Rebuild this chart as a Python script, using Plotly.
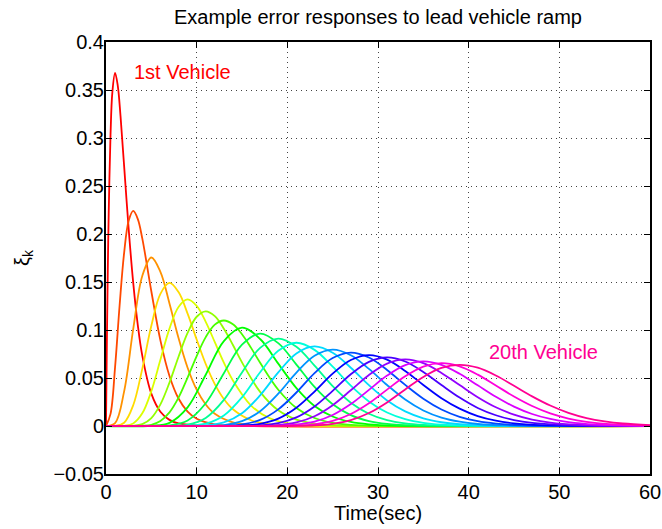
import colorsys
import plotly.graph_objects as go

# ---------------- data ----------------
X_TICKS = [0, 10, 20, 30, 40, 50, 60]
Y_TICKS = [-0.05, 0, 0.05, 0.1, 0.15, 0.2, 0.25, 0.3, 0.35, 0.4]
Y_TICK_LABELS = ["\u22120.05", "0", "0.05", "0.1", "0.15", "0.2", "0.25", "0.3", "0.35", "0.4"]

V01_T = [0, 0.1, 0.2, 0.3, 0.5, 0.7, 1, 1.3, 1.6, 2, 2.5, 3, 3.5, 4, 5, 6, 7, 8, 10, 12, 60]
V01_Y = [0, 0.0905, 0.1637, 0.2222, 0.3033, 0.3476, 0.3679, 0.3543, 0.3230, 0.2707, 0.2052, 0.1494,
         0.1057, 0.0733, 0.0337, 0.0149, 0.0064, 0.0027, 0.0005, 0.0001, 0]

V02_T = [0, 0.5, 1, 1.5, 2, 2.5, 3, 3.5, 4, 5, 6, 7, 8, 9, 10, 12, 14, 60]
V02_Y = [0, 0.0126, 0.0613, 0.1255, 0.1804, 0.2138, 0.2240, 0.2158, 0.1954, 0.1404, 0.0892, 0.0521,
         0.0286, 0.0150, 0.0076, 0.0018, 0.0004, 0]

V03_T = [0, 1, 2, 3, 4, 5, 6, 7, 8, 9, 10, 11, 12, 14, 16, 18, 60]
V03_Y = [0, 0.0031, 0.0361, 0.1008, 0.1563, 0.1755, 0.1606, 0.1277, 0.0916, 0.0607, 0.0378, 0.0224,
         0.0127, 0.0037, 0.0010, 0.0002, 0]

V04_T = [0, 1, 2, 3, 4, 5, 6, 7, 8, 9, 10, 11, 12, 13, 14, 16, 18, 20, 22, 60]
V04_Y = [0, 0.0001, 0.0034, 0.0216, 0.0595, 0.1044, 0.1377, 0.1490, 0.1395, 0.1171, 0.0901, 0.0646,
         0.0437, 0.0281, 0.0174, 0.0060, 0.0019, 0.0005, 0.0001, 0]

V05_T = [0, 2, 3, 4, 5, 6, 7, 8, 9, 10, 11, 12, 13, 14, 16, 18, 20, 22, 25, 60]
V05_Y = [0, 0.0002, 0.0027, 0.0132, 0.0363, 0.0689, 0.1014, 0.1240, 0.1318, 0.1251, 0.1085, 0.0874,
         0.0660, 0.0474, 0.0213, 0.0083, 0.0029, 0.0009, 0.0001, 0]

V06_T = [0, 3, 4, 5, 6, 7, 8, 9, 10, 11, 12, 13, 14, 15, 17, 19, 21, 23, 25, 28, 60]
V06_Y = [0, 0.0002, 0.0019, 0.0082, 0.0225, 0.0452, 0.0722, 0.0970, 0.1138, 0.1194, 0.1144, 0.1014,
         0.0844, 0.0663, 0.0355, 0.0163, 0.0067, 0.0025, 0.0008, 0.0001, 0]

V07_T = [0, 4, 5, 6, 7, 8, 9, 10, 11, 12, 13, 14, 15, 16, 17, 19, 21, 23, 25, 27, 30, 60]
V07_Y = [0, 0.0002, 0.0013, 0.0052, 0.0142, 0.0296, 0.0504, 0.0729, 0.0926, 0.1056, 0.1099, 0.1060,
         0.0956, 0.0814, 0.0659, 0.0378, 0.0188, 0.0083, 0.0033, 0.0012, 0.0002, 0]

V08_T = [0, 5, 7, 9, 11, 13, 15, 17, 19, 21, 23, 25, 27, 29, 32, 35, 60]
V08_Y = [0, 0.0002, 0.0033, 0.0194, 0.0534, 0.0885, 0.1024, 0.0906, 0.0650, 0.0395, 0.0209, 0.0099,
         0.0042, 0.0017, 0.0004, 0.0001, 0]

V09_T = [0, 5, 7, 9, 11, 13, 15, 17, 19, 21, 23, 25, 27, 29, 31, 34, 37, 60]
V09_Y = [0, 0.0000, 0.0006, 0.0058, 0.0237, 0.0550, 0.0847, 0.0963, 0.0863, 0.0640, 0.0407, 0.0227,
         0.0114, 0.0052, 0.0022, 0.0005, 0.0001, 0]

V10_T = [0, 7, 9, 11, 13, 15, 17, 19, 21, 23, 25, 27, 29, 31, 33, 35, 38, 41, 60]
V10_Y = [0, 0.0001, 0.0014, 0.0084, 0.0272, 0.0558, 0.0814, 0.0911, 0.0826, 0.0629, 0.0415, 0.0243,
         0.0128, 0.0061, 0.0027, 0.0011, 0.0003, 0.0001, 0]

V11_T = [0, 7, 9, 11, 13, 15, 17, 19, 21, 23, 25, 27, 29, 31, 33, 35, 37, 40, 44, 60]
V11_Y = [0, 0.0000, 0.0003, 0.0024, 0.0109, 0.0299, 0.0560, 0.0783, 0.0867, 0.0793, 0.0618, 0.0421,
         0.0256, 0.0140, 0.0071, 0.0033, 0.0014, 0.0004, 0.0000, 0]

V12_T = [0, 9, 11, 13, 15, 17, 19, 21, 23, 25, 27, 29, 31, 33, 35, 37, 39, 42, 46, 60]
V12_Y = [0, 0.0000, 0.0006, 0.0037, 0.0133, 0.0320, 0.0559, 0.0756, 0.0829, 0.0763, 0.0607, 0.0425,
         0.0266, 0.0152, 0.0080, 0.0039, 0.0018, 0.0005, 0.0001, 0]

V13_T = [0, 11, 13, 15, 17, 19, 21, 23, 25, 27, 29, 31, 33, 35, 37, 39, 41, 44, 48, 60]
V13_Y = [0, 0.0001, 0.0010, 0.0050, 0.0154, 0.0336, 0.0556, 0.0731, 0.0795, 0.0737, 0.0595, 0.0427,
         0.0276, 0.0162, 0.0088, 0.0045, 0.0021, 0.0006, 0.0001, 0]

V14_T = [0, 11, 13, 15, 17, 19, 21, 23, 25, 27, 29, 31, 33, 35, 37, 39, 41, 43, 46, 50, 60]
V14_Y = [0, 0.0000, 0.0002, 0.0016, 0.0063, 0.0173, 0.0349, 0.0551, 0.0708, 0.0765, 0.0713, 0.0584,
         0.0428, 0.0284, 0.0172, 0.0096, 0.0050, 0.0025, 0.0008, 0.0001, 0]

V15_T = [0, 13, 15, 17, 19, 21, 23, 25, 27, 29, 31, 33, 35, 37, 39, 41, 43, 45, 48, 52, 60]
V15_Y = [0, 0.0001, 0.0004, 0.0023, 0.0077, 0.0190, 0.0359, 0.0545, 0.0687, 0.0739, 0.0692, 0.0574,
         0.0428, 0.0290, 0.0181, 0.0104, 0.0056, 0.0028, 0.0009, 0.0002, 0]

V16_T = [0, 13, 15, 17, 19, 21, 23, 25, 27, 29, 31, 33, 35, 37, 39, 41, 43, 45, 47, 50, 54, 60]
V16_Y = [0, 0.0000, 0.0001, 0.0007, 0.0030, 0.0090, 0.0204, 0.0366, 0.0539, 0.0668, 0.0715, 0.0672,
         0.0563, 0.0427, 0.0296, 0.0188, 0.0112, 0.0062, 0.0032, 0.0011, 0.0002, 0]

V17_T = [0, 15, 17, 19, 21, 23, 25, 27, 29, 31, 33, 35, 37, 39, 41, 43, 45, 47, 49, 52, 56, 60]
V17_Y = [0, 0.0000, 0.0002, 0.0010, 0.0038, 0.0102, 0.0217, 0.0372, 0.0532, 0.0650, 0.0693, 0.0654,
         0.0553, 0.0426, 0.0300, 0.0195, 0.0119, 0.0067, 0.0036, 0.0013, 0.0003, 0.0000]

V18_T = [0, 17, 19, 21, 23, 25, 27, 29, 31, 33, 35, 37, 39, 41, 43, 45, 47, 49, 51, 54, 58, 60]
V18_Y = [0, 0.0000, 0.0003, 0.0014, 0.0045, 0.0114, 0.0228, 0.0376, 0.0525, 0.0634, 0.0673, 0.0637,
         0.0544, 0.0424, 0.0304, 0.0202, 0.0125, 0.0073, 0.0040, 0.0015, 0.0003, 0.0001]

V19_T = [0, 19, 21, 23, 25, 27, 29, 31, 33, 35, 37, 39, 41, 43, 45, 47, 49, 51, 53, 56, 60]
V19_Y = [0, 0.0001, 0.0005, 0.0018, 0.0053, 0.0125, 0.0237, 0.0379, 0.0518, 0.0619, 0.0654, 0.0621,
         0.0535, 0.0422, 0.0307, 0.0208, 0.0131, 0.0078, 0.0044, 0.0017, 0.0004]

V20_T = [0, 19, 21, 23, 25, 27, 29, 31, 33, 35, 37, 39, 41, 43, 45, 47, 49, 51, 53, 55, 57, 60]
V20_Y = [0, 0.0000, 0.0001, 0.0006, 0.0023, 0.0061, 0.0135, 0.0246, 0.0381, 0.0511, 0.0605, 0.0637,
         0.0607, 0.0526, 0.0419, 0.0309, 0.0213, 0.0137, 0.0083, 0.0048, 0.0026, 0.0010]

TIMES = [V01_T, V02_T, V03_T, V04_T, V05_T, V06_T, V07_T, V08_T, V09_T, V10_T,
         V11_T, V12_T, V13_T, V14_T, V15_T, V16_T, V17_T, V18_T, V19_T, V20_T]
VALUES = [V01_Y, V02_Y, V03_Y, V04_Y, V05_Y, V06_Y, V07_Y, V08_Y, V09_Y, V10_Y,
          V11_Y, V12_Y, V13_Y, V14_Y, V15_Y, V16_Y, V17_Y, V18_Y, V19_Y, V20_Y]

# ---------------- styling ----------------
FONT = "Liberation Sans, Arial, Helvetica, sans-serif"
W, H = 662, 529
ML, MR, MT, MB = 106, 12, 42, 55
PW, PH = W - ML - MR, H - MT - MB


def hsv_color(i, n):
    r, g, b = colorsys.hsv_to_rgb(i / (n + 1), 1.0, 1.0)
    return f"rgb({round(r * 255)},{round(g * 255)},{round(b * 255)})"


N = len(TIMES)
COLORS = [hsv_color(i, N) for i in range(N)]

fig = go.Figure()
for i, (t, y) in enumerate(zip(TIMES, VALUES)):
    fig.add_trace(go.Scatter(
        x=t, y=y, mode="lines",
        line=dict(color=COLORS[i], width=1.8, shape="spline", smoothing=1),
        hoverinfo="skip", showlegend=False,
    ))

axis_common = dict(
    ticks="inside", ticklen=6, tickwidth=1, tickcolor="black",
    showline=True, linecolor="black", linewidth=2, mirror="ticks",
    showgrid=True, gridcolor="#444444", gridwidth=1, griddash="1px,4px",
    zeroline=False, automargin=False,
    tickfont=dict(family=FONT, size=20, color="black"),
)

fig.update_layout(
    width=W, height=H,
    paper_bgcolor="white", plot_bgcolor="white",
    margin=dict(l=ML, r=MR, t=MT, b=MB),
    font=dict(family=FONT, size=20, color="black"),
    title=dict(text="Example error responses to lead vehicle ramp",
               x=0.5, xref="paper", xanchor="center",
               y=1 - 17 / H, yref="container", yanchor="middle",
               font=dict(family=FONT, size=20, color="black")),
    xaxis=dict(range=[0, 60], tickmode="array", tickvals=X_TICKS,
               ticklabelstandoff=-1, **axis_common),
    yaxis=dict(range=[-0.05, 0.4], tickmode="array", tickvals=Y_TICKS, ticktext=Y_TICK_LABELS,
               ticklabelstandoff=-4, **axis_common),
    showlegend=False,
    annotations=[
        dict(x=0.5, y=-(513 - (MT + PH)) / PH, xref="paper", yref="paper",
             text="Time(sec)", showarrow=False, xanchor="center", yanchor="middle",
             font=dict(family=FONT, size=20, color="black")),
        dict(x=-(ML - 23) / PW, y=0.5, xref="paper", yref="paper",
             text="\u03be<sub>k</sub>", showarrow=False, textangle=-90,
             xanchor="center", yanchor="middle",
             font=dict(family=FONT, size=20, color="black")),
        dict(x=2.9, y=0.369, xref="x", yref="y", text="1st Vehicle", showarrow=False,
             xanchor="left", yanchor="middle",
             font=dict(family=FONT, size=20, color=COLORS[0])),
        dict(x=42.0, y=0.077, xref="x", yref="y", text="20th Vehicle", showarrow=False,
             xanchor="left", yanchor="middle",
             font=dict(family=FONT, size=20, color=COLORS[-1])),
    ],
)

fig.write_html(
    "out.html",
    config={"displayModeBar": False, "staticPlot": True},
    post_script="document.body.style.margin='0';document.body.style.overflow='hidden';",
)
